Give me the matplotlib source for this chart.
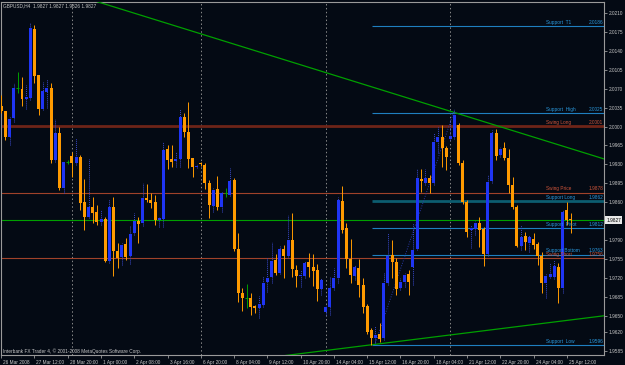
import matplotlib
matplotlib.use("Agg")
import matplotlib.pyplot as plt
from matplotlib.transforms import ScaledTranslation, blended_transform_factory
import numpy as np

# ---------------- data ----------------
header = "GBPUSD,H4  1.9827 1.9827 1.9826 1.9827"
copyright_text = "Interbank FX Trader 4, \u00a9 2001-2008 MetaQuotes Software Corp."

opens = [2.0038, 2.0029, 1.9981, 2.0016, 2.0071, 2.0069, 2.0051, 2.0053, 2.0180, 2.0095,
         2.0032, 2.0064, 2.0071, 1.9938, 1.9988, 1.9886, 1.9934, 1.9946, 1.9933, 1.9944,
         1.9860, 1.9833, 1.9851, 1.9842, 1.9823, 1.9829, 1.9751, 1.9851, 1.9770, 1.9759,
         1.9783, 1.9761, 1.9803, 1.9825, 1.9822, 1.9868, 1.9864, 1.9860, 1.9827, 1.9829,
         1.9958, 1.9940, 1.9936, 1.9940, 2.0018, 1.9990, 1.9942, 1.9925, 1.9933, 1.9929,
         1.9896, 1.9853, 1.9884, 1.9851, 1.9877, 1.9873, 1.9901, 1.9773, 1.9692, 1.9683,
         1.9683, 1.9668, 1.9664, 1.9670, 1.9712, 1.9722, 1.9753, 1.9729, 1.9773, 1.9761,
         1.9790, 1.9735, 1.9724, 1.9724, 1.9749, 1.9740, 1.9735, 1.9699, 1.9657, 1.9666,
         1.9701, 1.9720, 1.9862, 1.9812, 1.9755, 1.9724, 1.9738, 1.9707, 1.9668, 1.9624,
         1.9609, 1.9616, 1.9609, 1.9711, 1.9762, 1.9749, 1.9701, 1.9712, 1.9727, 1.9740,
         1.9773, 1.9903, 1.9896, 1.9905, 1.9896, 1.9971, 1.9981, 1.9960, 1.9977, 1.9981,
         2.0003, 1.9933, 1.9860, 1.9809, 1.9810, 1.9822, 1.9810, 1.9764, 1.9899, 1.9988,
         1.9947, 1.9960, 1.9942, 1.9892, 1.9851, 1.9779, 1.9798, 1.9785, 1.9792, 1.9783,
         1.9761, 1.9711, 1.9722, 1.9722, 1.9740, 1.9701, 1.9846, 1.9829]
highs = [2.0058, 2.0029, 2.0018, 2.0081, 2.0101, 2.0092, 2.0077, 2.0192, 2.0188, 2.0095,
         2.0082, 2.0088, 2.0081, 2.0014, 1.9999, 1.9934, 1.9938, 1.9953, 1.9979, 1.9947,
         1.9903, 1.9940, 1.9870, 1.9855, 1.9846, 1.9833, 1.9866, 1.9870, 1.9785, 1.9785,
         1.9794, 1.9816, 1.9840, 1.9833, 1.9896, 1.9894, 1.9877, 1.9873, 1.9833, 1.9971,
         1.9966, 1.9966, 1.9953, 2.0032, 2.0025, 2.0045, 1.9942, 1.9931, 1.9934, 1.9933,
         1.9901, 1.9886, 1.9909, 1.9879, 1.9886, 1.9923, 1.9905, 1.9803, 1.9701, 1.9709,
         1.9692, 1.9670, 1.9687, 1.9724, 1.9759, 1.9786, 1.9764, 1.9779, 1.9781, 1.9836,
         1.9840, 1.9744, 1.9735, 1.9751, 1.9766, 1.9764, 1.9746, 1.9720, 1.9670, 1.9722,
         1.9738, 1.9870, 1.9890, 1.9822, 1.9792, 1.9744, 1.9755, 1.9720, 1.9672, 1.9627,
         1.9631, 1.9637, 1.9729, 1.9803, 1.9790, 1.9757, 1.9720, 1.9729, 1.9735, 1.9822,
         1.9921, 1.9921, 1.9921, 1.9910, 1.9988, 1.9999, 2.0003, 1.9964, 2.0012, 2.0031,
         2.0007, 1.9938, 1.9864, 1.9818, 1.9825, 1.9833, 1.9814, 1.9910, 1.9994, 1.9995,
         1.9962, 1.9971, 1.9958, 1.9907, 1.9855, 1.9818, 1.9805, 1.9799, 1.9803, 1.9786,
         1.9768, 1.9727, 1.9748, 1.9753, 1.9748, 1.9846, 1.9860, 1.9840]
lows = [2.0025, 1.9975, 1.9966, 2.0008, 2.0062, 2.0038, 2.0032, 2.0049, 2.0081, 2.0021,
        2.0031, 2.0034, 1.9933, 1.9934, 1.9883, 1.9877, 1.9931, 1.9907, 1.9929, 1.9846,
        1.9809, 1.9831, 1.9822, 1.9818, 1.9818, 1.9749, 1.9748, 1.9724, 1.9738, 1.9744,
        1.9753, 1.9746, 1.9799, 1.9785, 1.9816, 1.9860, 1.9849, 1.9818, 1.9814, 1.9814,
        1.9921, 1.9925, 1.9925, 1.9925, 1.9981, 1.9923, 1.9907, 1.9923, 1.9927, 1.9884,
        1.9831, 1.9842, 1.9846, 1.9842, 1.9870, 1.9872, 1.9770, 1.9675, 1.9659, 1.9664,
        1.9651, 1.9655, 1.9646, 1.9666, 1.9694, 1.9711, 1.9725, 1.9727, 1.9720, 1.9757,
        1.9722, 1.9703, 1.9703, 1.9720, 1.9722, 1.9705, 1.9677, 1.9688, 1.9651, 1.9651,
        1.9698, 1.9711, 1.9803, 1.9738, 1.9711, 1.9716, 1.9685, 1.9655, 1.9616, 1.9596,
        1.9600, 1.9601, 1.9605, 1.9707, 1.9720, 1.9688, 1.9698, 1.9703, 1.9688, 1.9707,
        1.9772, 1.9879, 1.9892, 1.9877, 1.9892, 1.9951, 1.9925, 1.9920, 1.9975, 1.9977,
        1.9929, 1.9857, 1.9796, 1.9775, 1.9799, 1.9777, 1.9742, 1.9761, 1.9896, 1.9938,
        1.9944, 1.9938, 1.9877, 1.9847, 1.9777, 1.9772, 1.9772, 1.9768, 1.9773, 1.9744,
        1.9692, 1.9683, 1.9720, 1.9718, 1.9674, 1.9692, 1.9818, 1.9803]
closes = [2.0029, 1.9981, 2.0014, 2.0071, 2.0071, 2.0051, 2.0055, 2.0182, 2.0094, 2.0032,
          2.0066, 2.0071, 1.9938, 1.9988, 1.9886, 1.9934, 1.9934, 1.9933, 1.9944, 1.9859,
          1.9833, 1.9851, 1.9840, 1.9823, 1.9829, 1.9751, 1.9851, 1.9770, 1.9757, 1.9781,
          1.9759, 1.9801, 1.9825, 1.9820, 1.9868, 1.9864, 1.9859, 1.9827, 1.9831, 1.9957,
          1.9938, 1.9934, 1.9940, 2.0018, 1.9990, 1.9940, 1.9925, 1.9927, 1.9931, 1.9896,
          1.9855, 1.9883, 1.9851, 1.9877, 1.9877, 1.9899, 1.9773, 1.9692, 1.9683, 1.9683,
          1.9666, 1.9664, 1.9672, 1.9711, 1.9720, 1.9751, 1.9729, 1.9773, 1.9761, 1.9790,
          1.9736, 1.9724, 1.9725, 1.9748, 1.9740, 1.9733, 1.9699, 1.9716, 1.9666, 1.9701,
          1.9720, 1.9864, 1.9809, 1.9755, 1.9725, 1.9740, 1.9707, 1.9666, 1.9620, 1.9609,
          1.9614, 1.9607, 1.9711, 1.9761, 1.9749, 1.9699, 1.9712, 1.9725, 1.9712, 1.9772,
          1.9905, 1.9899, 1.9905, 1.9896, 1.9971, 1.9981, 1.9960, 1.9944, 1.9983, 2.0021,
          1.9933, 1.9860, 1.9805, 1.9812, 1.9822, 1.9809, 1.9764, 1.9897, 1.9988, 1.9946,
          1.9958, 1.9942, 1.9892, 1.9851, 1.9779, 1.9796, 1.9786, 1.9796, 1.9781, 1.9761,
          1.9711, 1.9724, 1.9727, 1.9742, 1.9701, 1.9842, 1.9827, 1.9827]

x_tick_bars = [0, 8, 16, 24, 32, 40, 48, 56, 64, 72, 80, 88, 96, 104, 112, 120, 128, 136]
x_tick_labels = ["26 Mar 2008", "27 Mar 12:00", "28 Mar 20:00", "1 Apr 00:00", "2 Apr 08:00",
                 "3 Apr 16:00", "6 Apr 20:00", "8 Apr 04:00", "9 Apr 12:00", "10 Apr 20:00",
                 "14 Apr 04:00", "15 Apr 12:00", "16 Apr 20:00", "18 Apr 04:00", "21 Apr 12:00",
                 "22 Apr 20:00", "24 Apr 04:00", "25 Apr 12:00"]
y_ticks = [2.0210, 2.0175, 2.0140, 2.0105, 2.0070, 2.0035, 2.0000, 1.9965, 1.9930, 1.9895,
           1.9860, 1.9790, 1.9755, 1.9720, 1.9685, 1.9650, 1.9620, 1.9585]
week_separators = [17, 48, 78, 108]
current_price = 1.9827

# horizontal levels: name, value, kind
level_names = ["Support  T1", "Support  High", "Swing Long", "Swing Price", "Support Long",
               "Support  Pivot", "Support Bottom", "Swing Short", "Support  Low"]
level_values = [2.0186, 2.0025, 2.0001, 1.9878, 1.9862, 1.9812, 1.9763, 1.9756, 1.9596]
level_kinds = ["support", "support", "swing_major", "swing", "support_major",
               "support", "support", "swing", "support"]

# trend lines: two anchor points (bar, price) each
down_trend = ([23.5, 145.0], [2.0230, 1.9940])
up_trend = ([71.0, 145.0], [1.9579, 1.9650])
# dotted swing segment (bar, price)
swing_seg = ([90, 109], [1.9600, 2.0031])

# ---------------- style ----------------
BG = "#040a14"
GRID = "#9a9a9a"
ORANGE = "#ff9a00"
BLUE = "#1f35f5"
BLUE_WICK = "#3848c8"
GREEN = "#00a000"
TXT = "#c8c8c8"
FONT = "Liberation Sans"
FS = 3.4

W, H = 625, 365
fig = plt.figure(figsize=(W / 100, H / 100), dpi=100, facecolor=BG)
ax = fig.add_axes([1 / W, 1 - 355 / H, 603 / W, 353 / H], facecolor=BG)

n = len(opens)
xs = np.arange(n)
o = np.array(opens); h = np.array(highs); l = np.array(lows); c = np.array(closes)
up = c > o
dn = c < o
dj = c == o

# separators
for s in week_separators:
    ax.axvline(s, color="#8a8a8a", lw=0.7, ls=(0, (1.5, 2.5)), zorder=1)

# horizontal levels
level_style = {
    "support": ("#1f7fc0", 0.8, "#2a9ae0"),
    "support_major": ("#0c5d70", 2.0, "#2a9ae0"),
    "swing": ("#a0422a", 0.8, "#d0553a"),
    "swing_major": ("#6e2418", 2.0, "#d0553a"),
}
for name, val, kind in zip(level_names, level_values, level_kinds):
    col, lw, tcol = level_style[kind]
    x0 = -1 if kind.startswith("swing") else 89.2
    ax.hlines(val, x0, 150, color=col, lw=lw, zorder=2)
    ax.text(131.0, val + 0.00022, name, color=tcol, fontsize=FS, family=FONT,
            ha="left", va="bottom", zorder=6)
    ax.text(141.3, val + 0.00022, f"{val:.4f}", color=tcol, fontsize=FS, family=FONT,
            ha="left", va="bottom", zorder=6)

# current price line
ax.axhline(current_price, color=GREEN, lw=0.8, zorder=2)

# trend lines (extended through the two anchors)
for (bx, py) in (down_trend, up_trend):
    slope = (py[1] - py[0]) / (bx[1] - bx[0])
    xx = np.array([-5, 150])
    ax.plot(xx, py[0] + slope * (xx - bx[0]), color=GREEN, lw=0.9, zorder=3)

ax.plot(swing_seg[0], swing_seg[1], color="#2a3aa8", lw=0.7, ls=(0, (1, 1.6)), zorder=3)

# wicks
ax.vlines(xs[dn], l[dn], h[dn], color=ORANGE, lw=0.7, zorder=4)
ax.vlines(xs[up], l[up], h[up], color=BLUE_WICK, lw=0.7, ls=(0, (1, 1)), zorder=4)
ax.vlines(xs[dj], l[dj], h[dj], color=GREEN, lw=0.7, zorder=4)
ax.hlines(o[dj], xs[dj] - 0.35, xs[dj] + 0.35, color=GREEN, lw=0.7, zorder=4)

# bodies
minh = 0.00012
bw = 0.72
ax.bar(xs[dn], np.maximum(o[dn] - c[dn], minh), bottom=c[dn], width=bw,
       color=ORANGE, edgecolor="none", zorder=5)
ax.bar(xs[up], np.maximum(c[up] - o[up], minh), bottom=o[up], width=bw,
       color=BLUE, edgecolor="none", zorder=5)

# axes limits and spines
ax.set_xlim(-0.05, 144.95)
ax.set_ylim(1.95774, 2.02304)
for sp in ax.spines.values():
    sp.set_color(GRID)
    sp.set_linewidth(0.8)

ax.yaxis.tick_right()
ax.set_yticks(y_ticks)
ax.set_yticklabels([f"{v:.4f}" for v in y_ticks])
ax.tick_params(axis="y", direction="out", length=2, width=0.6, color=GRID, pad=1.2,
               labelsize=FS, labelcolor=TXT)
ax.set_xticks(x_tick_bars)
ax.set_xticklabels(x_tick_labels, ha="left")
ax.tick_params(axis="x", direction="out", length=2.5, width=0.6, color=GRID, pad=0.8,
               labelsize=FS, labelcolor=TXT)
off = ScaledTranslation(2 / 100, 0, fig.dpi_scale_trans)
for lab in ax.get_xticklabels():
    lab.set_transform(lab.get_transform() + off)
    lab.set_family(FONT)
for lab in ax.get_yticklabels():
    lab.set_family(FONT)

# current price box on the axis
tr = blended_transform_factory(ax.transAxes, ax.transData)
ax.text(1.004, current_price, f"{current_price:.4f}", transform=tr, fontsize=FS, family=FONT,
        color="black", ha="left", va="center", zorder=10, clip_on=False,
        bbox=dict(boxstyle="square,pad=0.25", fc="#e8e8e8", ec="#e8e8e8", lw=0))

# header & copyright
ax.text(0.004, 0.995, header, transform=ax.transAxes, fontsize=FS, family=FONT,
        color=TXT, ha="left", va="top", zorder=10)
ax.text(0.004, 0.004, copyright_text, transform=ax.transAxes, fontsize=FS, family=FONT,
        color=TXT, ha="left", va="bottom", zorder=10)

fig.savefig("out.png", dpi=100, facecolor=BG)
